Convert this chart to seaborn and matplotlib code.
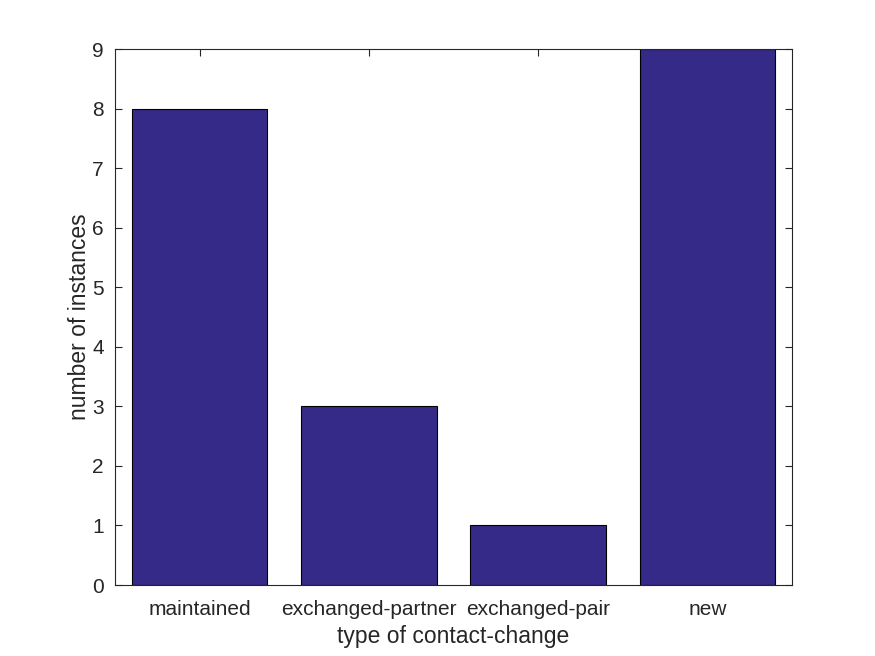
import matplotlib
matplotlib.use("Agg")
import matplotlib.pyplot as plt
import seaborn as sns
import pandas as pd

categories = ["maintained", "exchanged-partner", "exchanged-pair", "new"]
counts = [8, 3, 1, 9]
yticks = list(range(0, 10))

df = pd.DataFrame({"type": categories, "count": counts})

sns.set_style("white")
plt.rcParams["font.family"] = ["Liberation Sans", "DejaVu Sans"]

fig = plt.figure(figsize=(8.75, 6.56), dpi=100)
ax = fig.add_axes([0.1314, 0.1082, 0.7737, 0.8171])

sns.barplot(data=df, x="type", y="count", color="#352A87", saturation=1,
            width=0.8, edgecolor="black", linewidth=0.8, ax=ax)

ax.set_xlim(-0.5, 3.5)
ax.set_ylim(0, 9)
ax.set_yticks(yticks)
ax.tick_params(direction="in", length=5, width=0.8, colors="#262626",
               labelsize=15, top=True, right=True, bottom=True, left=True)
ax.tick_params(axis="x", pad=11)
ax.tick_params(axis="y", pad=8)
ax.set_xlabel("type of contact-change", fontsize=16.5, color="#262626", labelpad=4)
ax.set_ylabel("number of instances", fontsize=16.5, color="#262626", labelpad=1)
for s in ax.spines.values():
    s.set_visible(True)
    s.set_color("#262626")
    s.set_linewidth(0.8)

fig.savefig("out.png", dpi=100)
